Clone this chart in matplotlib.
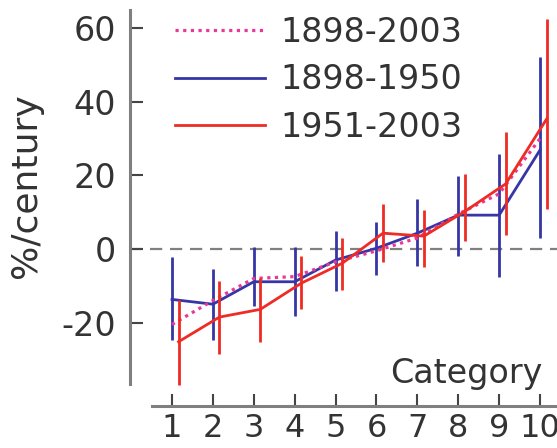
import matplotlib
matplotlib.use("Agg")
import matplotlib.pyplot as plt
import numpy as np

plt.rcParams['axes.unicode_minus'] = False
plt.rcParams['font.family'] = ['DejaVu Sans']

# trend per category, %/century
categories = np.arange(1, 11)

trend_all = [-20.5, -14.0, -8.0, -7.5, -3.5, -0.5, 3.0, 9.5, 15.0, 30.0]

trend_early = [-13.7, -15.0, -8.9, -8.9, -3.0, 0.2, 4.3, 9.2, 9.2, 26.9]
early_lo = [-24.8, -24.8, -15.6, -18.3, -11.3, -7.1, -4.6, -1.9, -7.5, 2.9]
early_hi = [-2.3, -5.5, 0.5, 0.5, 4.9, 7.3, 13.5, 19.9, 25.9, 52.3]

trend_late = [-25.2, -18.5, -16.4, -9.3, -3.9, 4.3, 3.5, 10.2, 17.7, 35.3]
late_lo = [-37.0, -28.4, -25.2, -16.4, -11.2, -3.4, -5.0, 2.3, 3.8, 10.8]
late_hi = [-13.9, -8.6, -8.0, -1.9, 2.9, 12.2, 10.6, 20.4, 31.9, 62.5]

labels = ['1898-2003', '1898-1950', '1951-2003']
yticks = [-20, 0, 20, 40, 60]

c_all = '#e8389a'
c_early = '#3636a6'
c_late = '#ee2b24'
c_text = '#333333'
c_axis = '#7f7f7f'

fig = plt.figure(figsize=(5.57, 4.48), dpi=100)
ax = fig.add_axes([130 / 557, 42 / 448, 427 / 557, 406 / 448])

# late series drawn slightly to the right so the bars don't overlap
x_late = categories + 0.16

early_err = [np.array(trend_early) - np.array(early_lo),
             np.array(early_hi) - np.array(trend_early)]
late_err = [np.array(trend_late) - np.array(late_lo),
            np.array(late_hi) - np.array(trend_late)]

ax.axhline(0, color='#808080', lw=1.6, linestyle=(0, (5.5, 3.5)), zorder=1)

l_early = ax.errorbar(categories, trend_early, yerr=early_err, color=c_early,
                      lw=2.0, elinewidth=2.0, capsize=0, zorder=2)
l_all, = ax.plot(categories, trend_all, color=c_all, lw=2.3,
                 linestyle=(0, (1, 1.4)), zorder=3)
l_late = ax.errorbar(x_late, trend_late, yerr=late_err, color=c_late,
                     lw=2.0, elinewidth=2.0, capsize=0, zorder=4)

ax.set_xlim(-0.027, 10.415)
ax.set_ylim(-42.66, 67.66)

for s in ['top', 'right']:
    ax.spines[s].set_visible(False)
for s in ['left', 'bottom']:
    ax.spines[s].set_color(c_axis)
    ax.spines[s].set_linewidth(2.2)
ax.spines['left'].set_bounds(-36.7, 64.9)
ax.spines['bottom'].set_bounds(0.51, 10.415)

ax.set_xticks(categories)
ax.set_yticks(yticks)
ax.tick_params(axis='both', direction='in', colors='#444444', labelcolor=c_text,
               labelsize=24, width=1.5)
ax.tick_params(axis='y', length=9.5, pad=10)
ax.tick_params(axis='x', length=9, pad=5, labelsize=23)

ax.set_xlabel('Category', fontsize=24, color=c_text)
ax.xaxis.set_label_coords(0.787, 0.12)
ax.set_ylabel('%/century', fontsize=26, color=c_text)
ax.yaxis.set_label_coords(-0.204, 0.544)

fig.legend([l_all, l_early.lines[0], l_late.lines[0]], labels,
           loc='upper left', bbox_to_anchor=(175 / 557, 1 - 16 / 448),
           frameon=False, fontsize=24, labelcolor=c_text,
           handlelength=2.7, handletextpad=0.45, labelspacing=0.43,
           borderpad=0, borderaxespad=0)

fig.savefig('out.png', dpi=100)
